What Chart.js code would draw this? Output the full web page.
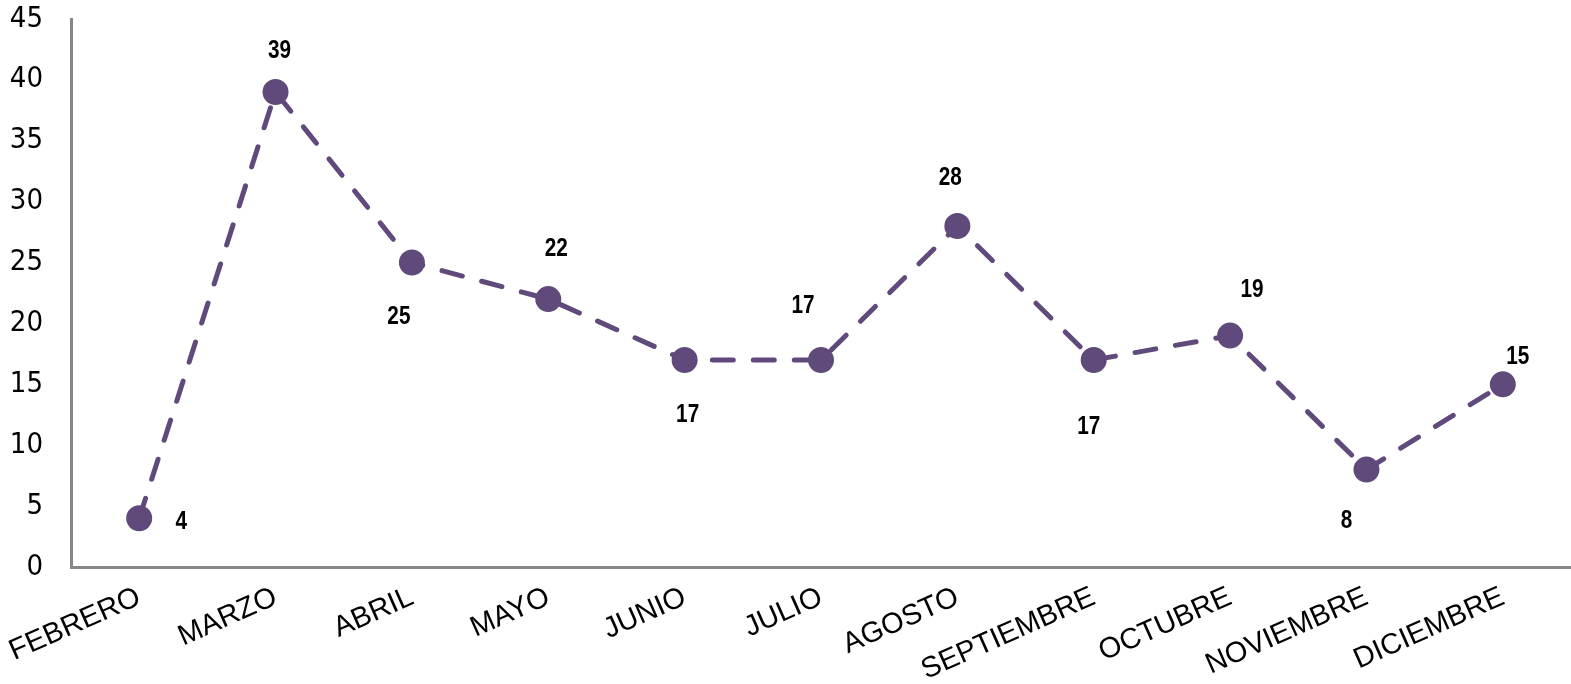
<!DOCTYPE html>
<html>
<head>
<meta charset="utf-8">
<script src="https://cdn.jsdelivr.net/npm/chart.js@4/dist/chart.umd.min.js"></script>
<style>
  html, body { margin: 0; padding: 0; background: #fff; }
  #wrap { width: 1571px; height: 684px; }
</style>
</head>
<body>
<div id="wrap"><canvas id="myChart"></canvas></div>
<script>
// Datos del grafico
const meses = ['FEBRERO', 'MARZO', 'ABRIL', 'MAYO', 'JUNIO', 'JULIO', 'AGOSTO', 'SEPTIEMBRE', 'OCTUBRE', 'NOVIEMBRE', 'DICIEMBRE'];
const valores = [4, 39, 25, 22, 17, 17, 28, 17, 19, 8, 15];
const yTicks = [0, 5, 10, 15, 20, 25, 30, 35, 40, 45];

// desplazamiento de cada etiqueta respecto a su punto (px)
const labelOffsets = [[42, 4], [4, -41], [-13, 55], [8, -50], [3, 55], [-18, -54], [-7, -48], [-5, 67], [22, -46], [-20, 52], [15, -27]];

const morado = '#604A7B';
const gris = '#878787';
const narrow = "'Liberation Sans Narrow', 'Arial Narrow', 'DejaVu Sans Condensed', sans-serif";

// Etiquetas de valor (Arial negrita comprimida)
const etiquetas = {
    id: 'etiquetas',
    afterDatasetsDraw(chart) {
        const ctx = chart.ctx;
        const meta = chart.getDatasetMeta(0);
        meta.data.forEach((pt, i) => {
            const off = labelOffsets[i];
            ctx.save();
            ctx.translate(pt.x + off[0], pt.y + off[1]);
            ctx.scale(0.83, 1);
            ctx.font = "bold 25px 'Liberation Sans', Arial, sans-serif";
            ctx.fillStyle = '#000';
            ctx.textAlign = 'center';
            ctx.textBaseline = 'middle';
            ctx.fillText(String(valores[i]), 0, 0);
            ctx.restore();
        });
    }
};

function sinPadding(scale) {
    scale.paddingLeft = 0;
    scale.paddingRight = 0;
    scale.paddingTop = 0;
    scale.paddingBottom = 0;
}

const ctx = document.getElementById('myChart').getContext('2d');
const myChart = new Chart(ctx, {
    type: 'line',
    data: {
        labels: meses,
        datasets: [{
            data: valores,
            borderColor: morado,
            backgroundColor: morado,
            borderWidth: 5,
            borderDash: [21, 20],
            borderCapStyle: 'round',
            tension: 0,
            fill: false,
            pointRadius: 12,
            pointBorderWidth: 2,
            pointBorderColor: morado,
            pointBackgroundColor: morado
        }]
    },
    options: {
        responsive: true,
        maintainAspectRatio: false,
        animation: false,
        layout: { autoPadding: false, padding: { left: 0, right: 0, top: 19, bottom: 0 } },
        plugins: {
            legend: { display: false },
            tooltip: { enabled: false }
        },
        scales: {
            x: {
                offset: true,
                afterFit(scale) {
                    sinPadding(scale);
                    scale.height = 117;
                },
                grid: { display: false, drawTicks: false },
                border: { display: true, color: gris, width: 3 },
                ticks: {
                    color: '#000',
                    font: { family: "'Liberation Sans', Arial, sans-serif", size: 29 },
                    minRotation: 24,
                    maxRotation: 24,
                    padding: 13,
                    autoSkip: false
                }
            },
            y: {
                min: 0,
                max: 45,
                afterFit(scale) {
                    sinPadding(scale);
                    scale.width = 71;
                },
                afterBuildTicks(axis) {
                    axis.ticks = yTicks.map(v => ({ value: v }));
                },
                grid: { display: false, drawTicks: false },
                border: { display: true, color: gris, width: 3 },
                ticks: {
                    color: '#000',
                    font: { family: narrow, size: 29 },
                    padding: 28
                }
            }
        }
    },
    plugins: [etiquetas]
});
</script>
</body>
</html>
